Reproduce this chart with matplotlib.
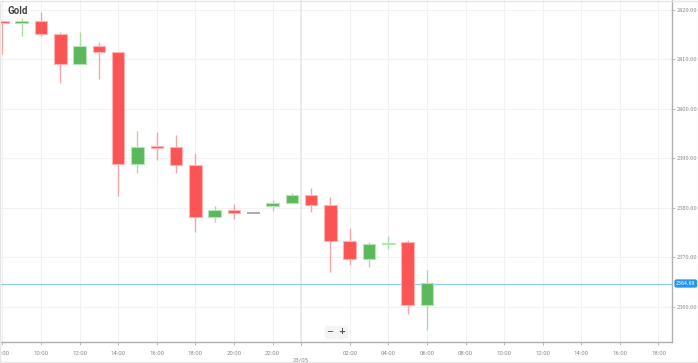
import matplotlib
matplotlib.use("Agg")
import matplotlib.pyplot as plt
from matplotlib.patches import Rectangle

# Hourly candles, hours counted from 22/05 00:00
hours = list(range(8, 31))
opens  = [2417.62, 2417.45, 2417.70, 2415.10, 2409.10, 2412.80, 2411.50, 2388.90,
          2392.35, 2392.20, 2388.60, 2378.10, 2379.60, 2379.00, 2380.40, 2381.00,
          2382.50, 2380.60, 2373.30, 2369.60, 2372.70, 2373.00, 2360.30]
highs  = [2417.70, 2418.40, 2419.60, 2415.60, 2415.50, 2413.60, 2411.60, 2395.60,
          2395.30, 2394.70, 2391.00, 2380.40, 2380.80, 2379.05, 2381.60, 2383.05,
          2384.10, 2382.20, 2376.00, 2373.10, 2374.20, 2373.40, 2367.40]
lows   = [2411.10, 2414.70, 2414.70, 2405.20, 2409.00, 2406.10, 2382.45, 2387.00,
          2389.70, 2387.10, 2375.20, 2377.10, 2377.80, 2379.00, 2379.40, 2381.00,
          2379.20, 2367.00, 2368.40, 2368.10, 2371.70, 2358.50, 2355.30]
closes = [2417.50, 2417.60, 2415.10, 2409.10, 2412.80, 2411.50, 2388.90, 2392.20,
          2392.20, 2388.60, 2378.10, 2379.60, 2378.90, 2379.00, 2381.00, 2382.50,
          2380.60, 2373.30, 2369.60, 2372.70, 2372.90, 2360.30, 2364.69]

y_ticks = [2360, 2370, 2380, 2390, 2400, 2410, 2420]
x_ticks = [8, 10, 12, 14, 16, 18, 20, 22, 26, 28, 30, 32, 34, 36, 38, 40, 42]
x_tick_labels = ["%02d:00" % (h % 24) for h in x_ticks]
date_label = "23/05"
date_pos = 23.47
title = "Gold"
last_price = closes[-1]

RED = "#fa5454"
RED_EDGE = "#ffb3b3"
RED_WICK = "#f8a5a5"
GREEN = "#5cb85c"
GREEN_EDGE = "#b6e3b6"
GREEN_WICK = "#a9dca9"
GRAY = "#9e9e9e"

fig = plt.figure(figsize=(6.98, 3.63), dpi=100)
fig.patch.set_facecolor("white")
ax = fig.add_axes([0, 21 / 363, 672 / 698, 342 / 363])

ax.set_xlim(7.875, 42.7)
ax.set_ylim(2352.86, 2422.02)

# grid
for yv in y_ticks:
    ax.axhline(yv, color="#f2f2f2", lw=0.8, zorder=0)
for xv in x_ticks:
    ax.axvline(xv, color="#f2f2f2", lw=0.8, zorder=0)
ax.axvline(date_pos, color="#e6e6e6", lw=1.2, zorder=0)

w = 0.65
for h, o, hi, lo, c in zip(hours, opens, highs, lows, closes):
    if abs(c - o) < 0.01:
        ax.hlines(o, h - w / 2, h + w / 2, color=GRAY, lw=1.2, zorder=3)
        continue
    elif c > o:
        col, edge, wick = GREEN, GREEN_EDGE, GREEN_WICK
    else:
        col, edge, wick = RED, RED_EDGE, RED_WICK
    ax.vlines(h, lo, hi, color=wick, lw=1.0, zorder=2)
    bottom = min(o, c)
    height = max(abs(c - o), 0.35)
    if abs(c - o) < 0.35:
        bottom = (o + c) / 2 - 0.175
    ax.bar(h, height, bottom=bottom, width=w, color=col, edgecolor=edge,
           linewidth=0.8, zorder=3)

# last price line
ax.axhline(last_price, color="#90caf9", lw=0.9, zorder=1)

# spines
for s in ["top", "left"]:
    ax.spines[s].set_visible(False)
ax.spines["right"].set_color("#b0b0b0")
ax.spines["bottom"].set_color("#b0b0b0")
ax.spines["right"].set_linewidth(1.0)
ax.spines["bottom"].set_linewidth(1.0)

ax.yaxis.tick_right()
ax.set_yticks(y_ticks)
ax.set_yticklabels(["%.2f" % v for v in y_ticks], fontsize=3.5, color="#7a7a7a",
                   family="DejaVu Serif")
ax.tick_params(axis="y", length=2, width=0.6, color="#b0b0b0", pad=1.0)

ax.set_xticks(x_ticks)
ax.set_xticklabels(x_tick_labels, fontsize=4.3, color="#8a8a8a", family="Roboto")
ax.tick_params(axis="x", length=2.5, width=0.6, color="#b0b0b0", pad=4)

# date label
ax.plot([date_pos, date_pos], [0, -0.008], transform=ax.get_xaxis_transform(),
        color="#b0b0b0", lw=0.6, clip_on=False)
ax.text(date_pos, -0.045, date_label, transform=ax.get_xaxis_transform(),
        ha="center", va="top", fontsize=4.3, color="#8a8a8a", family="Roboto")

# price label
ax.text(1.006, last_price, "%.2f" % last_price, transform=ax.get_yaxis_transform(),
        ha="left", va="center", fontsize=3.4, color="white", family="DejaVu Sans",
        bbox=dict(boxstyle="round,pad=0.2,rounding_size=0.3", fc="#2196f3",
                  ec="#2196f3"), clip_on=False, zorder=10)

# title
ax.text(8 / 672, 1 - 11 / 342, title, transform=ax.transAxes, ha="left",
        va="center", fontsize=7, fontweight="bold", color="#444444",
        family="Roboto")

# zoom buttons
for xpx, sym in [(330, "\u2212"), (342, "+")]:
    fig.text(xpx / 698, 1 - 332 / 363, sym, ha="center", va="center",
             fontsize=6, color="#555555", fontweight="bold",
             bbox=dict(boxstyle="square,pad=0.2", fc="#f4f4f4", ec="#f4f4f4"))

# outer border
fig.patches.append(Rectangle((0.0007, 0.0014), 0.9986, 0.9972,
                             transform=fig.transFigure, fill=False,
                             ec="#e6e6e6", lw=1.0))

fig.savefig("out.png", dpi=100)
